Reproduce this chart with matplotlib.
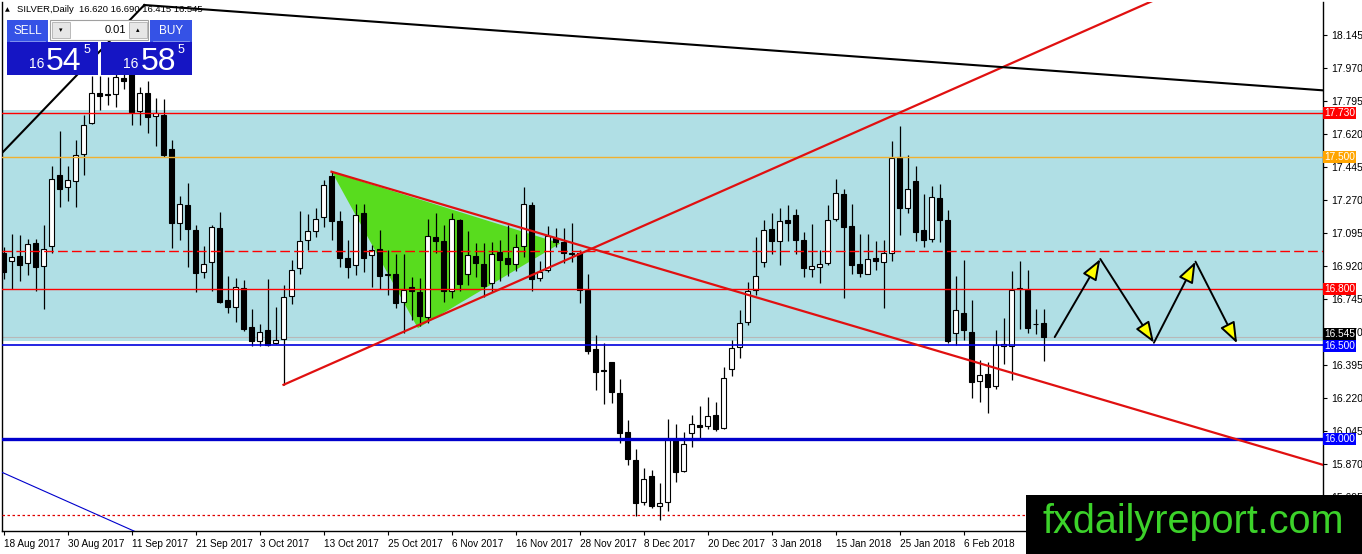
import numpy as np
import matplotlib.pyplot as plt
from matplotlib.patches import Rectangle, Polygon, FancyArrowPatch
from matplotlib.transforms import offset_copy

# daily SILVER candles, 18 Aug 2017 .. 20 Feb 2018
opens = [16.99, 16.945, 16.975, 16.935, 17.04, 16.92, 17.025, 17.40, 17.34, 17.37,
         17.515, 17.68, 17.84, 17.825, 17.83, 17.915, 17.95, 17.74, 17.84, 17.713,
         17.72, 17.54, 17.15, 17.245, 17.11, 16.89, 16.94, 17.12, 16.74, 16.705,
         16.805, 16.595, 16.52, 16.58, 16.51, 16.535, 16.76, 16.91, 17.06, 17.105,
         17.18, 17.395, 17.16, 16.96, 16.925, 17.20, 16.98, 17.01, 16.87, 16.875,
         16.73, 16.81, 16.78, 16.65, 17.075, 17.055, 16.785, 17.165, 16.88, 16.973,
         16.93, 16.83, 16.995, 16.96, 16.93, 17.025, 17.245, 16.855, 16.90, 17.07,
         17.045, 16.99, 16.99, 16.795, 16.48, 16.37, 16.41, 16.245, 16.04, 15.89,
         15.67, 15.805, 15.648, 15.67, 16.005, 15.835, 16.033, 16.077, 16.07, 16.13,
         16.06, 16.375, 16.49, 16.625, 16.795, 16.94, 17.115, 17.055, 17.165, 17.19,
         17.06, 16.903, 16.913, 16.935, 17.17, 17.30, 17.13, 16.93, 16.88, 16.96,
         16.943, 16.99, 17.50, 17.23, 17.37, 17.11, 17.065, 17.28, 17.165, 16.565,
         16.67, 16.57, 16.312, 16.347, 16.285, 16.497, 16.497, 16.80, 16.795, 16.61,
         16.62]
highs = [17.02, 17.09, 17.085, 17.065, 17.065, 17.14, 17.45, 17.635, 17.45, 17.59,
         17.72, 17.93, 17.93, 17.92, 17.96, 17.96, 17.98, 17.87, 17.90, 17.81,
         17.805, 17.59, 17.29, 17.36, 17.14, 17.025, 17.14, 17.205, 16.865, 16.855,
         16.845, 16.69, 16.615, 16.85, 16.70, 16.82, 16.95, 17.21, 17.195, 17.225,
         17.375, 17.42, 17.21, 17.06, 17.25, 17.25, 17.03, 17.11, 17.005, 16.985,
         16.985, 16.86, 16.855, 17.17, 17.20, 17.14, 17.20, 17.17, 17.105, 17.04,
         17.04, 17.045, 17.06, 17.135, 17.09, 17.34, 17.26, 16.945, 17.13, 17.12,
         17.12, 17.15, 17.005, 16.88, 16.555, 16.51, 16.41, 16.32, 16.105, 15.95,
         15.85, 15.84, 15.77, 16.11, 16.08, 16.04, 16.13, 16.18, 16.225, 16.20,
         16.385, 16.53, 16.685, 16.835, 17.075, 17.165, 17.20, 17.23, 17.245, 17.22,
         17.10, 17.145, 17.005, 17.245, 17.38, 17.33, 17.25, 17.09, 17.09, 17.055,
         17.06, 17.585, 17.66, 17.51, 17.45, 17.30, 17.345, 17.355, 17.215, 16.865,
         16.95, 16.74, 16.42, 16.41, 16.58, 16.645, 16.895, 16.945, 16.90, 16.69,
         16.69]
lows = [16.85, 16.80, 16.84, 16.87, 16.79, 16.69, 16.99, 17.235, 17.265, 17.235,
        17.40, 17.675, 17.745, 17.775, 17.765, 17.86, 17.67, 17.67, 17.625, 17.555,
        17.50, 17.015, 17.06, 16.915, 16.78, 16.855, 16.79, 16.725, 16.67, 16.625,
        16.575, 16.495, 16.495, 16.495, 16.505, 16.29, 16.72, 16.88, 17.005, 17.075,
        17.125, 17.06, 16.915, 16.855, 16.87, 16.89, 16.81, 16.80, 16.765, 16.695,
        16.565, 16.635, 16.60, 16.62, 16.99, 16.73, 16.75, 16.785, 16.82, 16.86,
        16.755, 16.78, 16.84, 16.865, 16.895, 16.97, 16.79, 16.84, 16.89, 17.02,
        16.935, 16.94, 16.725, 16.455, 16.26, 16.19, 16.195, 15.98, 15.865, 15.595,
        15.655, 15.635, 15.575, 15.62, 15.775, 15.83, 15.96, 16.0, 16.055, 16.045,
        16.055, 16.335, 16.43, 16.605, 16.765, 16.915, 16.985, 16.925, 17.05, 16.985,
        16.86, 16.86, 16.83, 16.925, 17.16, 16.75, 16.88, 16.86, 16.875, 16.90,
        16.695, 16.945, 17.085, 17.20, 17.055, 17.02, 17.045, 17.045, 16.51, 16.50,
        16.53, 16.22, 16.20, 16.14, 16.27, 16.40, 16.315, 16.585, 16.565, 16.56,
        16.415]
closes = [16.89, 16.97, 16.925, 17.035, 16.915, 17.01, 17.38, 17.33, 17.375, 17.51,
          17.67, 17.835, 17.82, 17.83, 17.92, 17.90, 17.735, 17.835, 17.71, 17.73,
          17.51, 17.15, 17.25, 17.115, 16.885, 16.93, 17.125, 16.73, 16.70, 16.81,
          16.585, 16.52, 16.57, 16.50, 16.53, 16.755, 16.90, 17.055, 17.105, 17.17,
          17.35, 17.16, 16.965, 16.915, 17.19, 16.96, 17.005, 16.865, 16.88, 16.725,
          16.795, 16.785, 16.655, 17.08, 17.055, 16.79, 17.17, 16.825, 16.98, 16.935,
          16.815, 16.985, 16.95, 16.93, 17.02, 17.25, 16.85, 16.89, 17.08, 17.045,
          16.99, 16.985, 16.795, 16.47, 16.36, 16.365, 16.25, 16.035, 15.895, 15.665,
          15.79, 15.645, 15.665, 16.0, 15.83, 15.975, 16.08, 16.065, 16.125, 16.055,
          16.325, 16.485, 16.62, 16.785, 16.865, 17.11, 17.05, 17.16, 17.15, 17.06,
          16.91, 16.92, 16.93, 17.165, 17.305, 17.125, 16.925, 16.885, 16.955, 16.948,
          16.987, 17.495, 17.225, 17.33, 17.10, 17.06, 17.285, 17.165, 16.52, 16.685,
          16.578, 16.305, 16.342, 16.28, 16.50, 16.505, 16.795, 16.80, 16.59, 16.61,
          16.545]

date_labels = ['18 Aug 2017', '30 Aug 2017', '11 Sep 2017', '21 Sep 2017', '3 Oct 2017',
               '13 Oct 2017', '25 Oct 2017', '6 Nov 2017', '16 Nov 2017', '28 Nov 2017',
               '8 Dec 2017', '20 Dec 2017', '3 Jan 2018', '15 Jan 2018', '25 Jan 2018',
               '6 Feb 2018']
bars_per_label = 8

price_ticks = [18.145, 17.970, 17.795, 17.620, 17.445, 17.270, 17.095, 16.920,
               16.745, 16.570, 16.395, 16.220, 16.045, 15.870, 15.695]

# horizontal levels: price, colour, width, style
level_prices = [17.730, 17.500, 17.000, 16.800, 16.500, 16.000, 15.600]
level_colors = ['#ff0000', '#f0b030', '#ff0000', '#ff0000', '#0000dd', '#0000cc', '#e00000']
level_widths = [1.0, 1.0, 1.0, 1.0, 1.2, 2.4, 0.9]
level_styles = ['-', '-', (0, (7, 3)), '-', '-', '-', (0, (2, 2))]

# price boxes on the right axis (last one: shift in px so it sits above 16.500)
tag_prices = [17.730, 17.500, 16.800, 16.545, 16.500, 16.000]
tag_colors = ['#ff0000', '#ffa500', '#ff0000', '#000000', '#0000ff', '#0000ff']
tag_shift = [0, 0, 0, 2.5, -1, 0]

band_low, band_high = 16.52, 17.745
bid = 16.545

# drawn objects (bar index, price)
red_up_x, red_up_y = [35, 150], [16.29, 18.445]
red_down_x, red_down_y = [41, 170], [17.42, 15.802]
black_top_x, black_top_y = [17.6, 170], [18.304, 17.836]
black_left_x, black_left_y = [-5, 17.6], [17.307, 18.304]
blue_thin_x, blue_thin_y = [-2, 17.5], [15.86, 15.492]
tri_x = [41.06, 51.8, 69.6]
tri_y = [17.418, 16.59, 17.04]
zig_x = [131.4, 137.1, 143.8, 149.0, 154.2]
zig_y = [16.543, 16.957, 16.513, 16.943, 16.51]

W, H = 1362, 554
fig = plt.figure(figsize=(W / 100, H / 100), dpi=100)
left_px, right_px, top_px, bot_px = 2.3, 1322.5, 2, 531
ax = fig.add_axes([left_px / W, (H - bot_px) / H, (right_px - left_px) / W, (bot_px - top_px) / H])
ax.set_xlim((left_px - 3.5) / 8, (right_px - 3.5) / 8)
ax.set_ylim(18.145 - (bot_px - 35) / 188.57, 18.145 - (top_px - 35) / 188.57)

ax.axhspan(band_low, band_high, color='#b0dfe5', lw=0, zorder=0)
ax.add_patch(Polygon(list(zip(tri_x, tri_y)), closed=True, fc='#58dc1e', ec='none', zorder=1))

# candles
o = np.array(opens); h = np.array(highs); l = np.array(lows); c = np.array(closes)
x = np.arange(len(o))
ax.vlines(x, l, h, color='black', lw=0.9, zorder=3)
bottom = np.minimum(o, c)
height = np.maximum(np.abs(c - o), 0.003)
ax.bar(x, height, bottom=bottom, width=0.62, color=np.where(c >= o, 'white', 'black'),
       edgecolor='black', linewidth=0.8, zorder=4)

ax.axhline(bid, color='#b8b8b8', lw=0.8, zorder=2)
for p, col, lw_, ls in zip(level_prices, level_colors, level_widths, level_styles):
    ax.axhline(p, color=col, lw=lw_, ls=ls, zorder=5)

ax.plot(red_up_x, red_up_y, color='#e01010', lw=1.6, zorder=6)
ax.plot(red_down_x, red_down_y, color='#e01010', lw=1.6, zorder=6)
ax.plot(black_top_x, black_top_y, color='black', lw=1.5, zorder=6)
ax.plot(black_left_x, black_left_y, color='black', lw=1.5, zorder=6)
ax.plot(blue_thin_x, blue_thin_y, color='#0000cc', lw=0.8, zorder=6)

for i in range(len(zig_x) - 1):
    ax.add_patch(FancyArrowPatch((zig_x[i], zig_y[i]), (zig_x[i + 1], zig_y[i + 1]),
                                 arrowstyle='-|>,head_length=1.6,head_width=0.6', mutation_scale=8,
                                 fc='#ffff00', ec='black', lw=1.4, shrinkA=0, shrinkB=0, zorder=7))

# axes look
ax.spines['top'].set_visible(False)
for s in ['left', 'right', 'bottom']:
    ax.spines[s].set_linewidth(1.0)
ax.yaxis.tick_right()
ax.set_yticks(price_ticks)
ax.set_yticklabels(['%.3f' % t for t in price_ticks], fontfamily='Liberation Sans')
ax.tick_params(axis='y', direction='out', length=3, pad=3, labelsize=7.5)
ax.set_xticks(np.arange(len(date_labels)) * bars_per_label)
ax.set_xticklabels(date_labels, fontfamily='Liberation Sans')
ax.tick_params(axis='x', direction='out', length=3, pad=3, labelsize=7.2)
for lbl in ax.get_xticklabels():
    lbl.set_ha('left')

for p, col, sh in zip(tag_prices, tag_colors, tag_shift):
    tr = offset_copy(ax.get_yaxis_transform(), fig=fig, x=0, y=sh * 0.72, units='points')
    ax.text(1.001, p, '%.3f' % p, transform=tr, ha='left', va='center',
            fontsize=7.3, family='Liberation Sans', color='white', clip_on=False, zorder=20,
            bbox=dict(boxstyle='square,pad=0.1', fc=col, ec='none'))

# overlay in pixel coordinates: trade panel, header, watermark
ov = fig.add_axes([0, 0, 1, 1], zorder=10)
ov.set_xlim(0, W)
ov.set_ylim(H, 0)
ov.axis('off')
ov.patch.set_alpha(0)

ov.text(5, 10, '\u25b2', fontsize=4.5, va='center', ha='left')
ov.text(17, 10, 'SILVER,Daily  16.620 16.690 16.415 16.545', fontsize=6.8,
        family='Liberation Sans', va='center', ha='left')

ov.add_patch(Rectangle((7, 20), 41, 22, fc='#3552e6', ec='none'))
ov.add_patch(Rectangle((150, 20), 42, 22, fc='#3552e6', ec='none'))
ov.plot([10, 45], [40.5, 40.5], color='#8c9cf0', lw=0.6)
ov.plot([153, 189], [40.5, 40.5], color='#8c9cf0', lw=0.6)
ov.text(27.5, 30.5, 'SELL', color='white', fontsize=8.5, family='Liberation Sans', ha='center', va='center')
ov.text(171, 30.5, 'BUY', color='white', fontsize=8.5, family='Liberation Sans', ha='center', va='center')
ov.add_patch(Rectangle((50, 20), 98, 20, fc='white', ec='#a0a0a0', lw=0.8))
ov.add_patch(Rectangle((52, 22), 18, 16, fc='#e6e6e6', ec='#b0b0b0', lw=0.6))
ov.add_patch(Rectangle((129, 22), 18, 16, fc='#e6e6e6', ec='#b0b0b0', lw=0.6))
ov.text(61, 30, '\u25be', fontsize=5, ha='center', va='center')
ov.text(138, 30, '\u25b4', fontsize=5, ha='center', va='center')
ov.text(126, 30, '0.01', fontsize=8, family='Liberation Sans', ha='right', va='center')

for bx, big in [(7, '54'), (101, '58')]:
    ov.add_patch(Rectangle((bx, 42), 91, 33, fc='#1515c4', ec='none'))
    ov.text(bx + 30, 68, '16', color='white', fontsize=10, family='Liberation Sans', ha='center', va='baseline')
    ov.text(bx + 57, 70, big, color='white', fontsize=23, family='Liberation Sans', ha='center', va='baseline')
    ov.text(bx + 80, 53, '5', color='white', fontsize=9, family='Liberation Sans', ha='center', va='baseline')

ov.add_patch(Rectangle((1026, 495), W - 1026, H - 495, fc='black', ec='none'))
ov.text(1193, 533, 'fxdailyreport.com', color='#3cd22a', fontsize=28.5,
        family='Liberation Sans', ha='center', va='baseline')

fig.savefig('out.png', dpi=100)
